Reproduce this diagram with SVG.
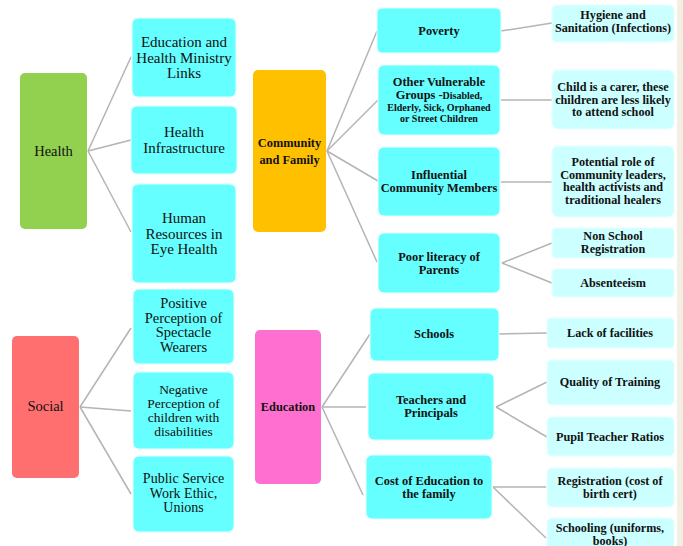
<svg xmlns="http://www.w3.org/2000/svg" width="683" height="546" viewBox="0 0 683 546">
<style>
.c1{fill:#66FFFF;stroke:#E6FFFF;stroke-width:1}
.c2{fill:#CCFFFF;stroke:#E6FFFF;stroke-width:1}
.n{font-family:"Liberation Serif","Times New Roman",serif;font-size:14.5px;fill:#111;text-anchor:middle}
.t{font-size:15px}
.b{font-family:"Liberation Serif","Times New Roman",serif;font-size:12.4px;font-weight:bold;fill:#111;text-anchor:middle}
.r{font-family:"Liberation Serif","Times New Roman",serif;font-size:12.2px;font-weight:bold;fill:#111;text-anchor:middle}
.s{font-size:10px}
#connectors line{stroke:#B4B4B4;stroke-width:1.5;fill:none}
</style>
<rect x="0" y="0" width="683" height="546" fill="#FFFFFF"/>
<rect x="677" y="0" width="6" height="546" fill="#F3EFE3"/>
<g id="connectors">
<line x1="88" y1="151" x2="131" y2="57"/>
<line x1="88" y1="151" x2="131" y2="140"/>
<line x1="88" y1="151" x2="131" y2="232"/>
<line x1="327" y1="151" x2="377" y2="31"/>
<line x1="327" y1="151" x2="378" y2="100"/>
<line x1="327" y1="151" x2="378" y2="181"/>
<line x1="327" y1="151" x2="377" y2="262"/>
<line x1="501" y1="31" x2="552" y2="23"/>
<line x1="501" y1="100" x2="552" y2="100"/>
<line x1="501" y1="182" x2="552" y2="182"/>
<line x1="502" y1="263" x2="552" y2="243"/>
<line x1="502" y1="263" x2="552" y2="283"/>
<line x1="80" y1="407" x2="131" y2="328"/>
<line x1="80" y1="407" x2="131" y2="411"/>
<line x1="80" y1="407" x2="131" y2="494"/>
<line x1="322" y1="407" x2="370" y2="334"/>
<line x1="322" y1="407" x2="366" y2="407"/>
<line x1="322" y1="407" x2="363" y2="495"/>
<line x1="499" y1="334" x2="547" y2="333"/>
<line x1="496" y1="407" x2="547" y2="382"/>
<line x1="496" y1="407" x2="547" y2="437"/>
<line x1="493" y1="487" x2="546" y2="487"/>
<line x1="493" y1="487" x2="546" y2="538"/>
</g>
<g id="health"><rect x="20" y="73" width="67" height="156" rx="5" fill="#92D050"/><text class="n" x="53.5" y="156">Health</text></g>
<g id="edu-health-links"><rect class="c1" x="132" y="18" width="104" height="79" rx="6"/><text class="n t" x="184" y="47">Education and</text><text class="n t" x="184" y="62.5">Health Ministry</text><text class="n t" x="184" y="78">Links</text></g>
<g id="health-infra"><rect class="c1" x="131" y="106" width="106" height="68" rx="6"/><text class="n t" x="184" y="137">Health</text><text class="n t" x="184" y="153">Infrastructure</text></g>
<g id="human-res"><rect class="c1" x="132" y="184" width="104" height="99" rx="6"/><text class="n t" x="184" y="223">Human</text><text class="n t" x="184" y="238.5">Resources in</text><text class="n t" x="184" y="254">Eye Health</text></g>
<g id="community"><rect x="253" y="70" width="73" height="162" rx="5" fill="#FFC000"/><text class="b" x="289.5" y="147">Community</text><text class="b" x="289.5" y="164">and Family</text></g>
<g id="poverty"><rect class="c1" x="377" y="8" width="124" height="45" rx="5"/><text class="b" x="439" y="35">Poverty</text></g>
<g id="vulnerable"><rect class="c1" x="378" y="65" width="122" height="70" rx="6"/><text class="b" x="439" y="86">Other Vulnerable</text><text class="b" x="439" y="99">Groups -<tspan class="s">Disabled,</tspan></text><text class="b s" x="439" y="111">Elderly, Sick, Orphaned</text><text class="b s" x="439" y="122">or Street Children</text></g>
<g id="influential"><rect class="c1" x="378" y="147" width="122" height="69" rx="6"/><text class="b" x="439" y="179">Influential</text><text class="b" x="439" y="192">Community Members</text></g>
<g id="literacy"><rect class="c1" x="378" y="233" width="122" height="60" rx="6"/><text class="b" x="439" y="260.5">Poor literacy of</text><text class="b" x="439" y="274">Parents</text></g>
<g id="hygiene"><rect class="c2" x="552" y="5" width="122" height="37" rx="5"/><text class="r" x="613" y="19">Hygiene and</text><text class="r" x="613" y="32">Sanitation (Infections)</text></g>
<g id="carer"><rect class="c2" x="552" y="70" width="122" height="59" rx="6"/><text class="r" x="613" y="91">Child is a carer, these</text><text class="r" x="613" y="103.5">children are less likely</text><text class="r" x="613" y="116">to attend school</text></g>
<g id="leaders"><rect class="c2" x="552" y="146" width="122" height="71" rx="6"/><text class="r" x="613" y="166">Potential role of</text><text class="r" x="613" y="178.5">Community leaders,</text><text class="r" x="613" y="191">health activists and</text><text class="r" x="613" y="204">traditional healers</text></g>
<g id="nonschool"><rect class="c2" x="552" y="228" width="122" height="30" rx="4"/><text class="r" x="613" y="240">Non School</text><text class="r" x="613" y="253">Registration</text></g>
<g id="absent"><rect class="c2" x="552" y="269" width="122" height="28" rx="4"/><text class="r" x="613" y="287">Absenteeism</text></g>
<g id="social"><rect x="12" y="336" width="67" height="142" rx="5" fill="#FF6F6F"/><text class="n" x="45.5" y="411">Social</text></g>
<g id="positive"><rect class="c1" x="133" y="289" width="101" height="75" rx="6"/><text class="n" x="183.5" y="308">Positive</text><text class="n" x="183.5" y="322.5">Perception of</text><text class="n" x="183.5" y="337">Spectacle</text><text class="n" x="183.5" y="351.5">Wearers</text></g>
<g id="negative"><rect class="c1" x="133" y="372" width="101" height="77" rx="6"/><text class="n" x="183.5" y="394" style="font-size:13.5px">Negative</text><text class="n" x="183.5" y="408" style="font-size:13.5px">Perception of</text><text class="n" x="183.5" y="422" style="font-size:13.5px">children with</text><text class="n" x="183.5" y="436" style="font-size:13.5px">disabilities</text></g>
<g id="public"><rect class="c1" x="133" y="456" width="101" height="76" rx="6"/><text class="n" x="183.5" y="483" style="font-size:14px">Public Service</text><text class="n" x="183.5" y="497.5" style="font-size:14px">Work Ethic,</text><text class="n" x="183.5" y="512" style="font-size:14px">Unions</text></g>
<g id="education"><rect x="255" y="330" width="66" height="154" rx="5" fill="#FF6FCF"/><text class="b" x="288" y="411">Education</text></g>
<g id="schools"><rect class="c1" x="370" y="308" width="129" height="53" rx="6"/><text class="b" x="434" y="338">Schools</text></g>
<g id="teachers"><rect class="c1" x="368" y="373" width="126" height="67" rx="6"/><text class="b" x="431" y="404">Teachers and</text><text class="b" x="431" y="417">Principals</text></g>
<g id="cost"><rect class="c1" x="366" y="455" width="126" height="64" rx="6"/><text class="b" x="429" y="485">Cost of Education to</text><text class="b" x="429" y="498">the family</text></g>
<g id="facilities"><rect class="c2" x="547" y="318" width="127" height="30" rx="4"/><text class="r" x="610" y="337">Lack of facilities</text></g>
<g id="quality"><rect class="c2" x="547" y="360" width="127" height="45" rx="5"/><text class="r" x="610" y="386">Quality of Training</text></g>
<g id="ratios"><rect class="c2" x="547" y="417" width="127" height="39" rx="5"/><text class="r" x="610" y="441">Pupil Teacher Ratios</text></g>
<g id="registration"><rect class="c2" x="547" y="468" width="127" height="39" rx="5"/><text class="r" x="610" y="485">Registration (cost of</text><text class="r" x="610" y="497.5">birth cert)</text></g>
<g id="schooling"><rect class="c2" x="547" y="518" width="127" height="40" rx="5"/><text class="r" x="610" y="532">Schooling (uniforms,</text><text class="r" x="610" y="544.5">books)</text></g>
</svg>
